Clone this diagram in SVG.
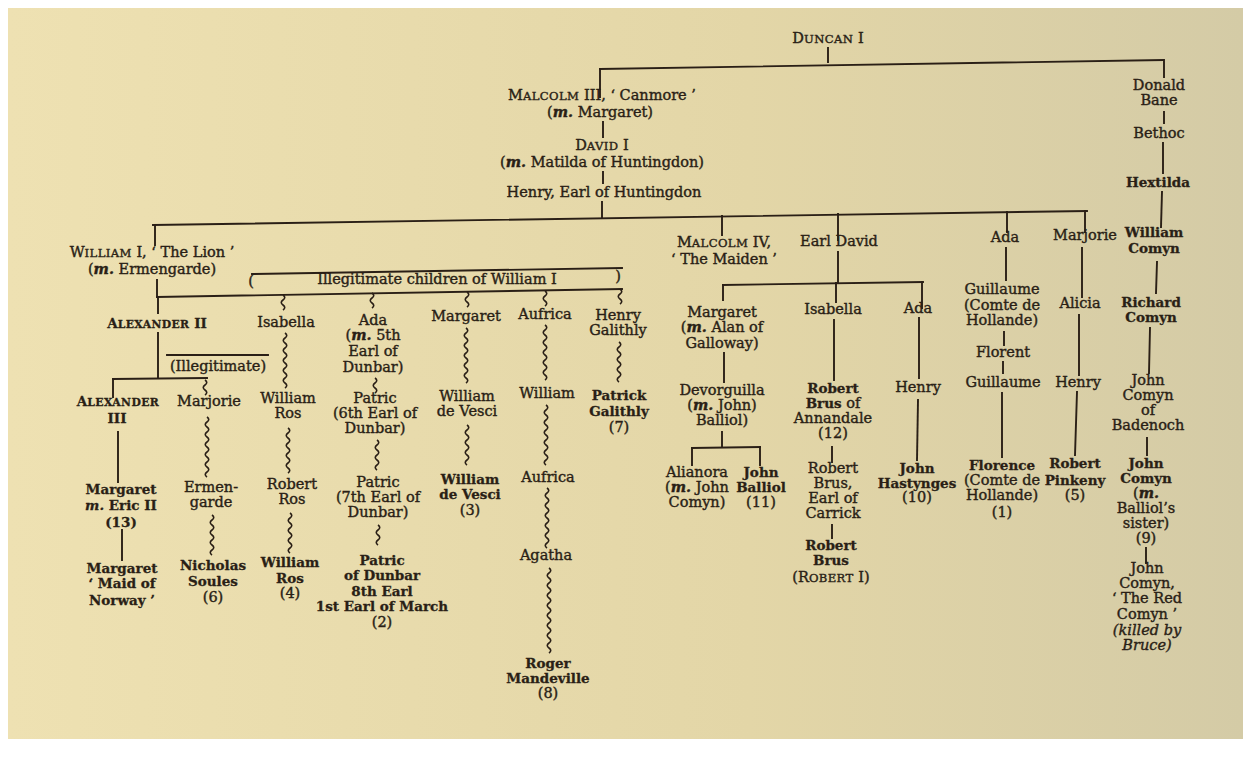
<svg xmlns="http://www.w3.org/2000/svg" width="1243" height="760" viewBox="0 0 1243 760">
<defs>
<linearGradient id="paper" x1="0" y1="0" x2="1" y2="0">
<stop offset="0" stop-color="#eee1b2"/>
<stop offset="0.6" stop-color="#e3d6a7"/>
<stop offset="1" stop-color="#d4cba6"/>
</linearGradient>
<style>
.t{font-family:"DejaVu Serif","Liberation Serif",serif;font-size:14.5px;fill:#2a1f16;text-anchor:middle;stroke:#2a1f16;stroke-width:0.4}
.b{font-weight:bold;font-size:13.5px;stroke-width:0.3}
.r{font-weight:normal;font-size:14.5px;stroke-width:0.4}
.i{font-style:italic;font-weight:bold}
.it{font-style:italic}
.s{font-size:80%;letter-spacing:0.4px}
.ln{stroke:#2a1f16;stroke-width:1.9;fill:none;stroke-linecap:square}
.sq{stroke:#2a1f16;stroke-width:1.6;fill:none}
</style>
</defs>
<rect x="0" y="0" width="1243" height="760" fill="#ffffff"/>
<rect x="8" y="8" width="1235" height="731" fill="url(#paper)"/>

<g id="connectors">
<g class="ln">
<path d="M828,48V62"/>
<path d="M600,69L1163,60"/>
<path d="M600,69V97"/>
<path d="M1164,60V77"/>
<path d="M603,122V137"/>
<path d="M603,172V183"/>
<path d="M602,202V218"/>
<path d="M153,225L1087,211"/>
<path d="M155,225V245"/>
<path d="M722,216V235"/>
<path d="M838,214V240"/>
<path d="M1007,212V232"/>
<path d="M1085,211V232"/>
<path d="M1164,112V123"/>
<path d="M1163,143V173"/>
<path d="M1162,192L1161,227"/>
<path d="M1157,262L1156,293"/>
<path d="M1150,328L1149,373"/>
<path d="M1147,438V455"/>
<path d="M1146,548V563"/>
<path d="M157,280V297"/>
<path d="M252,274L622,268"/>
<path d="M157,297L622,289"/>
<path d="M158,297V313"/>
<path d="M158,333V378"/>
<path d="M113,379L207,378"/>
<path d="M113,379V397"/>
<path d="M167,355H268"/>
<path d="M118,432V482"/>
<path d="M122,530V560"/>
<path d="M838,252V283"/>
<path d="M723,285L923,282"/>
<path d="M723,285V300"/>
<path d="M836,283V302"/>
<path d="M922,282V308"/>
<path d="M724,353V382"/>
<path d="M722,432V447"/>
<path d="M692,448L760,447"/>
<path d="M692,448V465"/>
<path d="M760,447V465"/>
<path d="M834,320V380"/>
<path d="M832,447V462"/>
<path d="M832,525V538"/>
<path d="M919,318V378"/>
<path d="M918,400L917,460"/>
<path d="M1006,248V280"/>
<path d="M1004,332V345"/>
<path d="M1003,362V373"/>
<path d="M1002,393V457"/>
<path d="M1082,248V297"/>
<path d="M1079,315V375"/>
<path d="M1077,392L1075,455"/>
</g>
<g class="sq">
<path d="M283,295q3.5,2.5 0,5t0,5t0,5"/>
<path d="M372,293q3.5,2.5 0,5t0,5t0,5"/>
<path d="M467,292q3.5,2.5 0,5t0,5t0,5"/>
<path d="M545,291q3.5,2.5 0,5t0,5t0,5"/>
<path d="M620,289q3.5,2.5 0,5t0,5t0,5"/>
<path d="M205,380q3.5,2.5 0,5t0,5t0,5"/>
<path d="M285,333q3.5,2.5 0,5t0,5t0,5t0,5t0,5t0,5t0,5t0,5t0,5t0,5t0,5"/>
<path d="M375,378q3.5,2.5 0,5t0,5t0,5"/>
<path d="M466,328q3.5,2.5 0,5t0,5t0,5t0,5t0,5t0,5t0,5t0,5t0,5t0,5t0,5"/>
<path d="M545,325q3.5,2.5 0,5t0,5t0,5t0,5t0,5t0,5t0,5t0,5t0,5t0,5t0,5"/>
<path d="M619,342q3.5,2.5 0,5t0,5t0,5t0,5t0,5t0,5t0,5t0,5"/>
<path d="M207,417q3.5,2.5 0,5t0,5t0,5t0,5t0,5t0,5t0,5t0,5t0,5t0,5t0,5t0,5"/>
<path d="M212,515q3.5,2.5 0,5t0,5t0,5t0,5t0,5t0,5t0,5t0,5"/>
<path d="M288,428q3.5,2.5 0,5t0,5t0,5t0,5t0,5t0,5t0,5t0,5t0,5"/>
<path d="M290,513q3.5,2.5 0,5t0,5t0,5t0,5t0,5t0,5t0,5t0,5"/>
<path d="M377,440q3.5,2.5 0,5t0,5t0,5t0,5t0,5t0,5"/>
<path d="M378,525q3.5,2.5 0,5t0,5t0,5t0,5"/>
<path d="M467,425q3.5,2.5 0,5t0,5t0,5t0,5t0,5t0,5t0,5t0,5"/>
<path d="M546,405q3.5,2.5 0,5t0,5t0,5t0,5t0,5t0,5t0,5t0,5t0,5t0,5t0,5t0,5"/>
<path d="M547,488q3.5,2.5 0,5t0,5t0,5t0,5t0,5t0,5t0,5t0,5t0,5t0,5t0,5t0,5"/>
<path d="M549,568q3.5,2.5 0,5t0,5t0,5t0,5t0,5t0,5t0,5t0,5t0,5t0,5t0,5t0,5t0,5t0,5t0,5t0,5t0,5"/>
</g>
</g>

<g id="duncan-i"><text class="t" x="828" y="43">D<tspan class="s">UNCAN</tspan> I</text></g>
<g id="malcolm-iii"><text class="t" x="602" y="100">M<tspan class="s">ALCOLM</tspan> III, ‘ Canmore ’<tspan x="600" y="117">(<tspan class="i">m.</tspan> Margaret)</tspan></text></g>
<g id="david-i"><text class="t" x="602" y="150">D<tspan class="s">AVID</tspan> I<tspan x="602" y="167">(<tspan class="i">m.</tspan> Matilda of Huntingdon)</tspan></text></g>
<g id="henry-huntingdon"><text class="t" x="604" y="197">Henry, Earl of Huntingdon</text></g>
<g id="donald-bane"><text class="t" x="1159" y="90">Donald<tspan x="1159" y="105">Bane</tspan></text></g>
<g id="bethoc"><text class="t" x="1159" y="138">Bethoc</text></g>
<g id="hextilda"><text class="t b" x="1158" y="187">Hextilda</text></g>
<g id="william-comyn"><text class="t b" x="1154" y="237">William<tspan x="1154" y="253">Comyn</tspan></text></g>
<g id="richard-comyn"><text class="t b" x="1151" y="307">Richard<tspan x="1151" y="322">Comyn</tspan></text></g>
<g id="john-comyn-badenoch"><text class="t" x="1148" y="385">John<tspan x="1148" y="400">Comyn</tspan><tspan x="1148" y="415">of</tspan><tspan x="1148" y="430">Badenoch</tspan></text></g>
<g id="john-comyn"><text class="t b" x="1146" y="468">John<tspan x="1146" y="483">Comyn</tspan><tspan class="r" x="1146" y="498">(<tspan class="i">m.</tspan></tspan><tspan class="r" x="1146" y="513">Balliol’s</tspan><tspan class="r" x="1146" y="528">sister)</tspan><tspan class="r" x="1146" y="543">(9)</tspan></text></g>
<g id="red-comyn"><text class="t" x="1147" y="573">John<tspan x="1147" y="588">Comyn,</tspan><tspan x="1147" y="603">‘ The Red</tspan><tspan x="1147" y="619">Comyn ’</tspan><tspan class="it" x="1147" y="635">(killed by</tspan><tspan class="it" x="1147" y="650">Bruce)</tspan></text></g>

<g id="william-i"><text class="t" x="152" y="257">W<tspan class="s">ILLIAM</tspan> I, ‘ The Lion ’<tspan x="152" y="274">(<tspan class="i">m.</tspan> Ermengarde)</tspan></text></g>
<g id="illegitimate-children"><text class="t" x="251" y="286">(</text><text class="t" x="437" y="284">Illegitimate children of William I</text><text class="t" x="618" y="281">)</text></g>
<g id="alexander-ii"><text class="t b" x="157" y="328">A<tspan class="s">LEXANDER</tspan> II</text></g>
<g id="illegitimate"><text class="t" x="218" y="371">(Illegitimate)</text></g>
<g id="alexander-iii"><text class="t b" x="118" y="406">A<tspan class="s">LEXANDER</tspan><tspan x="117" y="423">III</tspan></text></g>
<g id="margaret-eric"><text class="t b" x="121" y="494">Margaret<tspan x="121" y="510"><tspan class="i">m.</tspan> Eric II</tspan><tspan x="121" y="527">(13)</tspan></text></g>
<g id="maid-of-norway"><text class="t b" x="122" y="573">Margaret<tspan x="122" y="588">‘ Maid of</tspan><tspan x="122" y="605">Norway ’</tspan></text></g>
<g id="marjorie-alex"><text class="t" x="209" y="406">Marjorie</text></g>
<g id="ermengarde"><text class="t" x="211" y="492">Ermen-<tspan x="211" y="507">garde</tspan></text></g>
<g id="nicholas-soules"><text class="t b" x="213" y="570">Nicholas<tspan x="213" y="586">Soules</tspan><tspan class="r" x="213" y="602">(6)</tspan></text></g>
<g id="isabella-w"><text class="t" x="286" y="327">Isabella</text></g>
<g id="william-ros-1"><text class="t" x="288" y="403">William<tspan x="288" y="418">Ros</tspan></text></g>
<g id="robert-ros"><text class="t" x="292" y="489">Robert<tspan x="292" y="504">Ros</tspan></text></g>
<g id="william-ros-2"><text class="t b" x="290" y="567">William<tspan x="290" y="583">Ros</tspan><tspan class="r" x="290" y="598">(4)</tspan></text></g>
<g id="ada-w"><text class="t" x="373" y="325">Ada<tspan x="373" y="340">(<tspan class="i">m.</tspan> 5th</tspan><tspan x="373" y="356">Earl of</tspan><tspan x="373" y="372">Dunbar)</tspan></text></g>
<g id="patric-6"><text class="t" x="375" y="403">Patric<tspan x="375" y="418">(6th Earl of</tspan><tspan x="375" y="433">Dunbar)</tspan></text></g>
<g id="patric-7"><text class="t" x="378" y="487">Patric<tspan x="378" y="502">(7th Earl of</tspan><tspan x="378" y="517">Dunbar)</tspan></text></g>
<g id="patric-8"><text class="t b" x="382" y="565">Patric<tspan x="382" y="580">of Dunbar</tspan><tspan x="382" y="596">8th Earl</tspan><tspan x="382" y="611">1st Earl of March</tspan><tspan class="r" x="382" y="627">(2)</tspan></text></g>
<g id="margaret-w"><text class="t" x="466" y="321">Margaret</text></g>
<g id="william-de-vesci-1"><text class="t" x="467" y="401">William<tspan x="467" y="416">de Vesci</tspan></text></g>
<g id="william-de-vesci-2"><text class="t b" x="470" y="484">William<tspan x="470" y="499">de Vesci</tspan><tspan class="r" x="470" y="515">(3)</tspan></text></g>
<g id="aufrica-w"><text class="t" x="545" y="319">Aufrica</text></g>
<g id="william-a"><text class="t" x="547" y="398">William</text></g>
<g id="aufrica-2"><text class="t" x="548" y="482">Aufrica</text></g>
<g id="agatha"><text class="t" x="546" y="560">Agatha</text></g>
<g id="roger-mandeville"><text class="t b" x="548" y="668">Roger<tspan x="548" y="683">Mandeville</tspan><tspan class="r" x="548" y="698">(8)</tspan></text></g>
<g id="henry-galithly"><text class="t" x="618" y="320">Henry<tspan x="618" y="335">Galithly</tspan></text></g>
<g id="patrick-galithly"><text class="t b" x="619" y="400">Patrick<tspan x="619" y="416">Galithly</tspan><tspan class="r" x="619" y="432">(7)</tspan></text></g>

<g id="malcolm-iv"><text class="t" x="724" y="247">M<tspan class="s">ALCOLM</tspan> IV,<tspan x="724" y="264">‘ The Maiden ’</tspan></text></g>
<g id="earl-david"><text class="t" x="839" y="246">Earl David</text></g>
<g id="margaret-d"><text class="t" x="722" y="317">Margaret<tspan x="722" y="332">(<tspan class="i">m.</tspan> Alan of</tspan><tspan x="722" y="348">Galloway)</tspan></text></g>
<g id="devorguilla"><text class="t" x="722" y="395">Devorguilla<tspan x="722" y="410">(<tspan class="i">m.</tspan> John)</tspan><tspan x="722" y="425">Balliol)</tspan></text></g>
<g id="alianora"><text class="t" x="697" y="477">Alianora<tspan x="697" y="492">(<tspan class="i">m.</tspan> John</tspan><tspan x="697" y="507">Comyn)</tspan></text></g>
<g id="john-balliol"><text class="t b" x="761" y="477">John<tspan x="761" y="492">Balliol</tspan><tspan class="r" x="761" y="507">(11)</tspan></text></g>
<g id="isabella-d"><text class="t" x="833" y="314">Isabella</text></g>
<g id="robert-brus-annandale"><text class="t b" x="833" y="393">Robert<tspan x="833" y="408">Brus<tspan class="r"> of</tspan></tspan><tspan class="r" x="833" y="423">Annandale</tspan><tspan class="r" x="833" y="438">(12)</tspan></text></g>
<g id="robert-brus-carrick"><text class="t" x="833" y="473">Robert<tspan x="833" y="488">Brus,</tspan><tspan x="833" y="503">Earl of</tspan><tspan x="833" y="518">Carrick</tspan></text></g>
<g id="robert-bruce"><text class="t b" x="831" y="550">Robert<tspan x="831" y="565">Brus</tspan><tspan class="r" x="831" y="582">(R<tspan class="s">OBERT</tspan> I)</tspan></text></g>
<g id="ada-d"><text class="t" x="918" y="313">Ada</text></g>
<g id="henry-d"><text class="t" x="918" y="392">Henry</text></g>
<g id="john-hastynges"><text class="t b" x="917" y="473">John<tspan x="917" y="488">Hastynges</tspan><tspan class="r" x="917" y="502">(10)</tspan></text></g>
<g id="ada-h"><text class="t" x="1005" y="242">Ada</text></g>
<g id="guillaume-1"><text class="t" x="1002" y="294">Guillaume<tspan x="1002" y="310">(Comte de</tspan><tspan x="1002" y="325">Hollande)</tspan></text></g>
<g id="florent"><text class="t" x="1003" y="357">Florent</text></g>
<g id="guillaume-2"><text class="t" x="1003" y="387">Guillaume</text></g>
<g id="florence"><text class="t b" x="1002" y="470">Florence<tspan class="r" x="1002" y="485">(Comte de</tspan><tspan class="r" x="1002" y="500">Hollande)</tspan><tspan class="r" x="1002" y="517">(1)</tspan></text></g>
<g id="marjorie-h"><text class="t" x="1085" y="240">Marjorie</text></g>
<g id="alicia"><text class="t" x="1080" y="308">Alicia</text></g>
<g id="henry-h"><text class="t" x="1078" y="387">Henry</text></g>
<g id="robert-pinkeny"><text class="t b" x="1075" y="468">Robert<tspan x="1075" y="485">Pinkeny</tspan><tspan class="r" x="1075" y="500">(5)</tspan></text></g>
</svg>
